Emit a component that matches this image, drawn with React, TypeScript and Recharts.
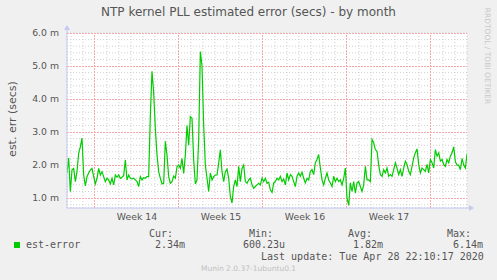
import { CartesianGrid, Line, LineChart, ReferenceLine, XAxis, YAxis } from "recharts";

// est. error in ms, one sample every 5/3 px (~3h20)
const seg1 = [
  1.76, 2.21, 1.2, 1.86, 1.9, 1.5, 1.8, 2.36, 2.55, 2.82, 1.7, 1.37, 1.65, 1.76, 1.85, 1.9,
  1.65, 1.43, 1.6, 1.9, 1.7, 1.8, 1.65, 1.5, 1.6, 1.55, 1.43, 1.6, 1.4, 1.7, 1.63, 1.7,
  1.6, 1.63, 1.68, 2.16, 1.55, 1.7, 1.6, 1.58, 1.6, 1.55, 1.5, 1.35, 1.65, 1.55, 1.62, 1.6,
  1.65, 1.65, 3.5, 4.84, 4.2, 3.1, 2.3, 1.8, 1.6, 1.43, 1.45, 2.72, 2.3,
];
const seg2 = [
  1.65, 1.45, 1.5, 1.67, 1.6, 1.95, 2.0, 1.9, 2.2, 1.75, 2.3, 3.2, 2.6, 3.47, 3.42, 2.16,
  1.43, 1.55, 2.77, 5.44, 5.0, 3.2, 2.0, 1.6, 1.2, 1.76, 1.55, 1.65, 1.7, 1.7, 2.06, 2.46,
  1.8, 1.5, 1.8, 1.88, 1.6, 1.05, 0.85, 1.35, 1.55, 1.35, 1.96, 1.5, 1.9, 2.0, 1.5, 1.45,
  1.55, 1.6, 1.4, 1.3, 1.35, 1.4, 1.45, 1.4, 1.6, 1.5, 1.6, 1.45,
];
const seg3 = [
  1.48, 1.25, 1.17, 1.46, 1.5, 1.6, 1.55, 1.66, 1.5, 1.58, 1.4, 1.76, 1.55, 1.71, 1.66, 1.5,
  1.35, 1.66, 1.76, 1.66, 1.78, 1.6, 1.46, 1.6, 1.55, 1.81, 1.86, 1.71, 2.07, 2.17, 2.32, 1.91,
  1.55, 1.4, 1.6, 1.76, 1.55, 1.46, 1.35, 1.66, 1.5, 1.6, 1.5, 1.55, 1.4, 1.6, 1.91, 1.0,
  0.78, 1.46, 1.2, 1.5, 1.15, 1.46, 1.5, 1.35, 1.2, 1.4, 1.96, 1.55,
];
const seg4 = [
  1.55, 1.5, 2.78, 2.68, 2.47, 2.42, 2.0, 1.71, 1.66, 1.86, 1.76, 1.91, 1.66, 1.71, 1.66, 1.86,
  2.07, 1.91, 1.71, 1.86, 1.66, 1.91, 2.12, 2.02, 1.81, 1.71, 1.96, 2.22, 2.37, 2.49, 2.02, 1.76,
  1.91, 1.86, 1.81, 2.02, 1.76, 2.17, 2.07, 1.91, 2.47, 2.27, 2.37, 2.12, 2.17, 2.02, 1.96, 2.17,
  2.07, 2.27, 2.37, 2.55, 2.1, 2.0, 2.0, 1.86, 2.2, 2.0, 1.91, 2.34,
];
const estError = [...seg1, ...seg2, ...seg3, ...seg4];

const weekLabels = ["Week 14", "Week 15", "Week 16", "Week 17"];
const weekStarts = [2.33, 9.33, 16.33, 23.33, 30.33];
const yTicks = [1, 2, 3, 4, 5, 6];
const yMinor = [0.8, 1.2, 1.4, 1.6, 1.8, 2.2, 2.4, 2.6, 2.8, 3.2, 3.4, 3.6, 3.8, 4.2, 4.4, 4.6, 4.8, 5.2, 5.4, 5.6, 5.8];

const SPAN = 33.33; // days shown
const STEP = 5 / 36;
const data = estError.map((v, i) => ({ t: i * STEP, v }));
const labelPos = weekLabels.map((_, i) => (weekStarts[i] + weekStarts[i + 1]) / 2);
const dayLines: number[] = [];
for (let d = 0.33; d < SPAN; d += 1) {
  if (!weekStarts.some((w) => Math.abs(w - d) < 0.01)) dayLines.push(d);
}

const mono = "'DejaVu Sans Mono', monospace";
const sans = "'DejaVu Sans', sans-serif";
const txt = "#555";
const axisBlue = "#c4c8f2";
const majorRed = "#f5a8a8";

export default function App() {
  return (
    <div style={{ position: "absolute", left: 0, top: 0, width: 497, height: 280, background: "#f0f0f0", fontFamily: sans }}>
      <div style={{ position: "absolute", top: 5, left: 0, width: 497, textAlign: "center", fontSize: 12, color: txt }}>
        NTP kernel PLL estimated error (secs) - by month
      </div>
      <div
        style={{
          position: "absolute",
          left: 12,
          top: 119,
          transform: "translate(-50%, -50%) rotate(-90deg)",
          whiteSpace: "nowrap",
          fontSize: 11,
          color: txt,
        }}
      >
        est. err (secs)
      </div>
      <div
        style={{
          position: "absolute",
          left: 487,
          top: 56,
          transform: "translate(-50%, -50%) rotate(90deg)",
          whiteSpace: "nowrap",
          fontSize: 7.5,
          color: "#c8c8c8",
        }}
      >
        RRDTOOL / TOBI OETIKER
      </div>

      {/* plot background */}
      <div style={{ position: "absolute", left: 67, top: 33, width: 400, height: 175, background: "#ffffff" }} />

      <LineChart
        width={497}
        height={280}
        data={data}
        margin={{ top: 33, right: 30, bottom: 42, left: 0 }}
        style={{ position: "absolute", left: 0, top: 0 }}
      >
        <XAxis
          xAxisId="lbl"
          dataKey="t"
          type="number"
          domain={[0, SPAN]}
          ticks={labelPos}
          interval={0}
          allowDataOverflow
          tickFormatter={(v: number) => weekLabels[labelPos.indexOf(v)] ?? ""}
          tickLine={false}
          tickSize={0}
          tickMargin={5}
          axisLine={{ stroke: axisBlue }}
          tick={{ fontSize: 9.3, fill: txt, fontFamily: sans }}
          height={30}
        />
        <YAxis
          yAxisId="v"
          type="number"
          domain={[0.7, 6]}
          ticks={yTicks}
          interval={0}
          allowDataOverflow
          width={67}
          tickLine={false}
          tickSize={0}
          tickMargin={8}
          axisLine={{ stroke: axisBlue }}
          tickFormatter={(v: number) => `${v.toFixed(1)} m`}
          tick={{ fontSize: 9.3, fill: txt, fontFamily: sans }}
        />
        <XAxis xAxisId="day" dataKey="t" type="number" domain={[0, SPAN]} ticks={dayLines} interval={0} hide height={0} allowDataOverflow />
        <YAxis yAxisId="minor" type="number" domain={[0.7, 6]} ticks={yMinor} interval={0} hide width={0} allowDataOverflow />
        <CartesianGrid xAxisId="day" yAxisId="minor" stroke="#d0d0d0" strokeDasharray="1 2" />
        {weekStarts.map((w) => (
          <ReferenceLine
            key={`w${w}`}
            xAxisId="lbl"
            yAxisId="v"
            x={w}
            stroke={majorRed}
            strokeWidth={1}
            strokeDasharray="2 1"
            shapeRendering="crispEdges"
            ifOverflow="visible"
          />
        ))}
        {yTicks.map((y) => (
          <ReferenceLine
            key={`y${y}`}
            xAxisId="lbl"
            yAxisId="v"
            y={y}
            stroke={majorRed}
            strokeWidth={1}
            strokeDasharray="2 1"
            shapeRendering="crispEdges"
            ifOverflow="visible"
          />
        ))}
        <Line
          xAxisId="lbl"
          yAxisId="v"
          type="linear"
          dataKey="v"
          stroke="#00cc00"
          strokeWidth={1.2}
          dot={false}
          isAnimationActive={false}
        />
      </LineChart>

      {/* axis arrows */}
      <svg width={497} height={280} style={{ position: "absolute", left: 0, top: 0, pointerEvents: "none" }}>
        <line x1={67} y1={33} x2={67} y2={28} stroke={axisBlue} />
        <polygon points="64,30 70,30 67,25" fill={axisBlue} />
        <line x1={467} y1={208} x2={471} y2={208} stroke={axisBlue} />
        <polygon points="469,205 469,211 474,208" fill={axisBlue} />
      </svg>

      <div style={{ position: "absolute", top: 228, left: 0, fontFamily: mono, fontSize: 10, color: txt, whiteSpace: "pre" }}>
        <span style={{ position: "absolute", left: 149 }}>Cur:</span>
        <span style={{ position: "absolute", left: 249 }}>Min:</span>
        <span style={{ position: "absolute", left: 348 }}>Avg:</span>
        <span style={{ position: "absolute", left: 447 }}>Max:</span>
      </div>
      <div style={{ position: "absolute", left: 14, top: 241.5, width: 6, height: 6, background: "#00cc00" }} />
      <div style={{ position: "absolute", top: 239, left: 0, fontFamily: mono, fontSize: 10, color: txt, whiteSpace: "pre" }}>
        <span style={{ position: "absolute", left: 26 }}>est-error</span>
        <span style={{ position: "absolute", left: 155 }}>2.34m</span>
        <span style={{ position: "absolute", left: 243 }}>600.23u</span>
        <span style={{ position: "absolute", left: 353 }}>1.82m</span>
        <span style={{ position: "absolute", left: 453 }}>6.14m</span>
      </div>
      <div style={{ position: "absolute", top: 251, left: 261, fontFamily: mono, fontSize: 10, color: txt, whiteSpace: "pre" }}>
        Last update: Tue Apr 28 22:10:17 2020
      </div>
      <div style={{ position: "absolute", top: 264, left: 0, width: 497, textAlign: "center", fontSize: 7.5, color: "#c0c0c0" }}>
        Munin 2.0.37-1ubuntu0.1
      </div>
    </div>
  );
}
